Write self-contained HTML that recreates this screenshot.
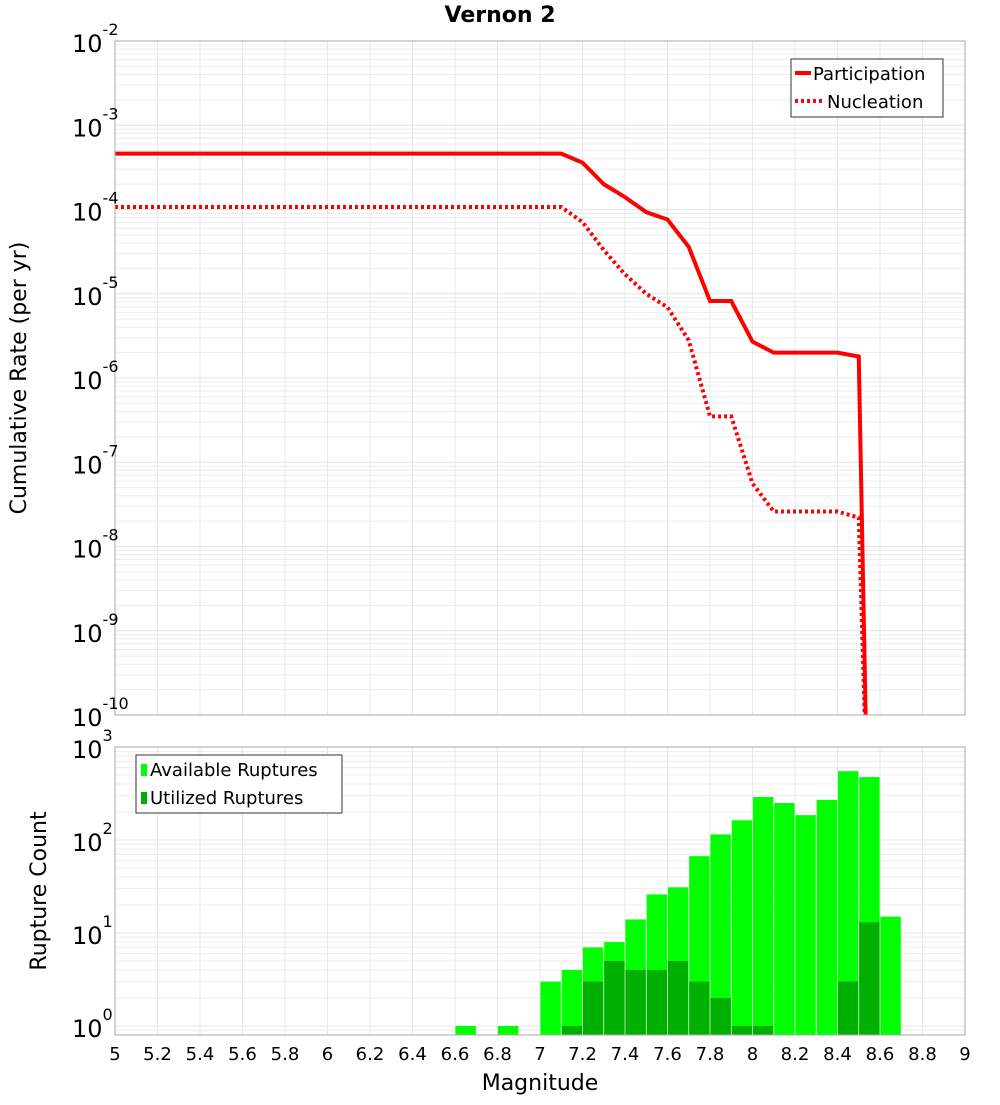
<!DOCTYPE html>
<html><head><meta charset="utf-8"><style>
body{margin:0;background:#fff;font-family:"Liberation Sans","DejaVu Sans",sans-serif}
svg text{font-family:"DejaVu Sans","Liberation Sans",sans-serif}
</style></head><body>
<svg id="c" width="1000" height="1100" xmlns="http://www.w3.org/2000/svg"></svg>
<script>
const mags=[5,7.1,7.2,7.3,7.4,7.5,7.6,7.7,7.8,7.9,8.0,8.1,8.2,8.3,8.4,8.5,8.54];
const participation=[4.6e-4,4.6e-4,3.6e-4,2.0e-4,1.4e-4,9.3e-5,7.6e-5,3.6e-5,8.2e-6,8.2e-6,2.7e-6,2.0e-6,2.0e-6,2.0e-6,2.0e-6,1.8e-6,1e-11];
const nucleation=[1.07e-4,1.07e-4,7.1e-5,3.3e-5,1.7e-5,1.0e-5,6.9e-6,2.8e-6,3.5e-7,3.5e-7,5.6e-8,2.6e-8,2.6e-8,2.6e-8,2.6e-8,2.2e-8,1e-11];
const binMags=[6.65,6.85,7.05,7.15,7.25,7.35,7.45,7.55,7.65,7.75,7.85,7.95,8.05,8.15,8.25,8.35,8.45,8.55,8.65];
const available=[1,1,3,4,7,8,14,26,31,67,115,163,290,250,185,270,550,475,15];
const utilized=[0,0,0,1,3,5,4,4,5,3,2,1,1,0,0,0,3,13,0];
const xTicks=[5,5.2,5.4,5.6,5.8,6,6.2,6.4,6.6,6.8,7,7.2,7.4,7.6,7.8,8,8.2,8.4,8.6,8.8,9];
const xTickLabels=["5","5.2","5.4","5.6","5.8","6","6.2","6.4","6.6","6.8","7","7.2","7.4","7.6","7.8","8","8.2","8.4","8.6","8.8","9"];
const topExps=[-2,-3,-4,-5,-6,-7,-8,-9,-10];
const botExps=[0,1,2,3];

const svg=document.getElementById('c');const NS='http://www.w3.org/2000/svg';
function el(t,a,p){const e=document.createElementNS(NS,t);for(const k in a)e.setAttribute(k,a[k]);(p||svg).appendChild(e);return e;}
const X0=115,X1=965;
const xs=m=>X0+(m-5)/4*(X1-X0);
const T0=41,T1=715; const yt=v=>T0+(-2-Math.log10(v))*(T1-T0)/8;
const B0=747,B1=1035; const yb=v=>1026-Math.log10(v)*93;

function grid(y0,y1,ymap,decLo,decHi){
  const g=el('g',{});
  
  for(let d=decLo;d<decHi;d++)for(let k=1;k<10;k++){const y=ymap(k*Math.pow(10,d));if(y<y0-0.5||y>y1+0.5)continue;
    el('line',{x1:X0,x2:X1,y1:y,y2:y,stroke:k==1?'#e4e4e4':'#ececec','stroke-width':1},g);}
  xTicks.forEach(m=>el('line',{x1:xs(m),x2:xs(m),y1:y0,y2:y1,stroke:'#e8e8e8'},g));
}
// top plot
grid(T0,T1,yt,-11,-1);
const clip=el('clipPath',{id:'tc'});el('rect',{x:X0,y:T0,width:X1-X0,height:T1-T0},clip);
function line(vals,dash,name){
  const p=el('polyline',{points:mags.map((m,i)=>xs(m)+','+yt(vals[i])).join(' '),fill:'none',stroke:'#ff0000','stroke-width':4,'clip-path':'url(#tc)'});
  if(dash)p.setAttribute('stroke-dasharray','3,3');
  
}
line(participation,false,'participation-line');
line(nucleation,true,'nucleation-line');
el('rect',{x:X0,y:T0,width:X1-X0,height:T1-T0,fill:'none',stroke:'#aaa'});
topExps.forEach(e=>{const y=yt(Math.pow(10,e));
  const t=el('text',{x:72,y:y+11,'font-size':24});t.textContent='10';
  const s=el('tspan',{dy:-17,'font-size':16},t);s.textContent=String(e);
  });
// bottom plot
grid(B0,B1,yb,-1,3);
const clip2=el('clipPath',{id:'bc'});el('rect',{x:X0,y:B0,width:X1-X0,height:B1-B0},clip2);
binMags.forEach((m,i)=>{
  const xa=xs(m-0.048),w=xs(m+0.048)-xa;
  const r=el('rect',{x:xa,y:yb(available[i]),width:w,height:B1-yb(available[i]),fill:'#00ff00','clip-path':'url(#bc)'});
  
  if(utilized[i]>0){const u=el('rect',{x:xa,y:yb(utilized[i]),width:w,height:B1-yb(utilized[i]),fill:'#00b000','clip-path':'url(#bc)'});
  }
});
el('rect',{x:X0,y:B0,width:X1-X0,height:B1-B0,fill:'none',stroke:'#aaa'});
botExps.forEach(e=>{const y=yb(Math.pow(10,e));
  const t=el('text',{x:72,y:y+11,'font-size':24});t.textContent='10';
  const s=el('tspan',{dy:-17,'font-size':16},t);s.textContent=String(e);
  });
xTicks.forEach((m,i)=>{const t=el('text',{x:xs(m),y:1060,'font-size':18,'text-anchor':'middle'});t.textContent=xTickLabels[i];
  });
</script>
<svg style="position:absolute;left:0;top:0" width="1000" height="1100" xmlns="http://www.w3.org/2000/svg">
<text x="500" y="22" font-size="22" font-weight="bold" text-anchor="middle" font-family="DejaVu Sans">Vernon 2</text>
<text transform="translate(26,378) rotate(-90)" font-size="22" text-anchor="middle" font-family="DejaVu Sans">Cumulative Rate (per yr)</text>
<text transform="translate(46,891) rotate(-90)" font-size="22" text-anchor="middle" font-family="DejaVu Sans">Rupture Count</text>
<text x="540" y="1090" font-size="22" text-anchor="middle" font-family="DejaVu Sans">Magnitude</text>
<g>
<rect x="791" y="59" width="152" height="58" fill="#fff" stroke="#333"/>
<line x1="795" y1="73" x2="811" y2="73" stroke="#f00" stroke-width="4"/>
<text x="813" y="80" font-size="18" font-family="DejaVu Sans">Participation</text>
<line x1="795" y1="101" x2="822" y2="101" stroke="#f00" stroke-width="4" stroke-dasharray="3,3"/>
<text x="827" y="108" font-size="18" font-family="DejaVu Sans">Nucleation</text>
</g>
<g>
<rect x="136" y="755" width="206" height="58" fill="#fff" stroke="#333"/>
<rect x="141" y="764" width="6" height="12" fill="#00ff00"/>
<text x="150" y="776" font-size="18" font-family="DejaVu Sans">Available Ruptures</text>
<rect x="141" y="792" width="6" height="12" fill="#00b000"/>
<text x="150" y="804" font-size="18" font-family="DejaVu Sans">Utilized Ruptures</text>
</g>
</svg>
</body></html>
